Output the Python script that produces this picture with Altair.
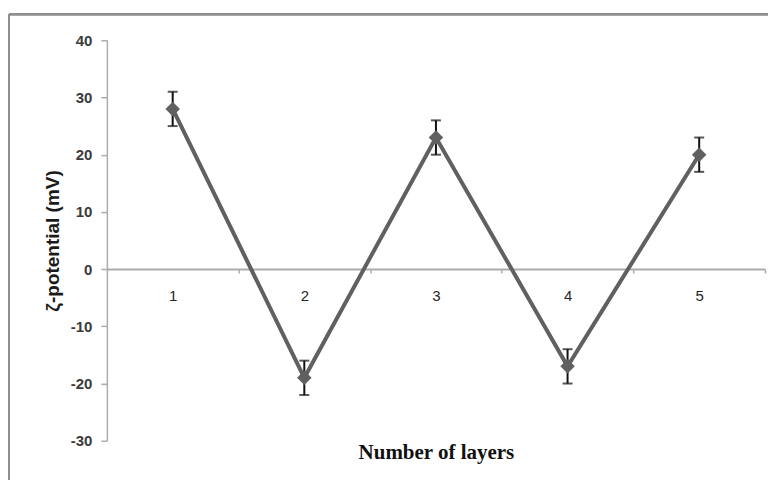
import altair as alt
import pandas as pd

# ---- data ----
layers = [1, 2, 3, 4, 5]
zeta = [28, -19, 23, -17, 20]
err = [3, 3, 3, 3, 3]
y_ticks = [-30, -20, -10, 0, 10, 20, 30, 40]

df = pd.DataFrame({
    "layer": layers,
    "zeta": zeta,
    "lo": [z - e for z, e in zip(zeta, err)],
    "hi": [z + e for z, e in zip(zeta, err)],
})

W, H = 659, 401
Y_MIN, Y_MAX = -30, 40
zero_offset = -H * (0 - Y_MIN) / (Y_MAX - Y_MIN)

x_scale = alt.Scale(domain=[0.5, 5.5], nice=False, zero=False)
y_scale = alt.Scale(domain=[Y_MIN, Y_MAX], nice=False, zero=False)

x_axis = alt.Axis(
    values=layers, format="d", grid=False,
    offset=zero_offset, tickOffset=W / 10, labelOffset=-W / 10,
    domainColor="#acacac", domainWidth=2,
    tickColor="#acacac", tickSize=4, tickWidth=1.5,
    labelFont="Liberation Sans", labelFontSize=15, labelColor="#262626",
    labelPadding=15,
    title="Number of layers", titleFont="Liberation Serif", titleFontSize=21,
    titleFontWeight="bold", titleColor="#111111", titlePadding=139,
)
y_axis = alt.Axis(
    values=y_ticks, format="d", grid=False,
    labelExpr="'' + datum.value",
    domainColor="#acacac", domainWidth=1.5,
    tickColor="#acacac", tickSize=6, tickWidth=1.5,
    labelFont="Liberation Sans", labelFontSize=15, labelFontWeight="bold",
    labelColor="#3a3a3a", labelPadding=9,
    title="ζ-potential (mV)", titleFont="Liberation Sans", titleFontSize=19,
    titleFontWeight="bold", titleColor="#1a1a1a", titlePadding=8,
)

base = alt.Chart(df)
X = alt.X("layer:Q", scale=x_scale, axis=x_axis)
Y = alt.Y("zeta:Q", scale=y_scale, axis=y_axis)

frame_left = base.mark_rule(color="#8e8e8e", strokeWidth=2).encode(
    x=alt.value(-98), y=alt.value(-26), y2=alt.value(440))
frame_top = base.mark_rule(color="#8e8e8e", strokeWidth=2).encode(
    x=alt.value(-98), x2=alt.value(662), y=alt.value(-26))

line = base.mark_line(color="#606060", strokeWidth=4).encode(x=X, y=Y)
ebar = base.mark_rule(color="#111111", strokeWidth=2).encode(
    x=alt.X("layer:Q", scale=x_scale),
    y=alt.Y("lo:Q", scale=y_scale), y2="hi:Q")
cap_hi = base.mark_tick(color="#111111", orient="horizontal", size=10, thickness=2).encode(
    x=alt.X("layer:Q", scale=x_scale), y=alt.Y("hi:Q", scale=y_scale))
cap_lo = base.mark_tick(color="#111111", orient="horizontal", size=10, thickness=2).encode(
    x=alt.X("layer:Q", scale=x_scale), y=alt.Y("lo:Q", scale=y_scale))
points = base.mark_point(shape="diamond", filled=True, size=210, color="#606060", opacity=1).encode(x=X, y=Y)

chart = alt.layer(frame_left, frame_top, line, ebar, cap_hi, cap_lo, points).properties(
    width=W, height=H,
    padding={"left": 0, "top": 5, "right": 0, "bottom": 0},
    background="white",
).configure_view(strokeWidth=0)

chart.save("out.html", embed_options={"renderer": "svg", "actions": False})
